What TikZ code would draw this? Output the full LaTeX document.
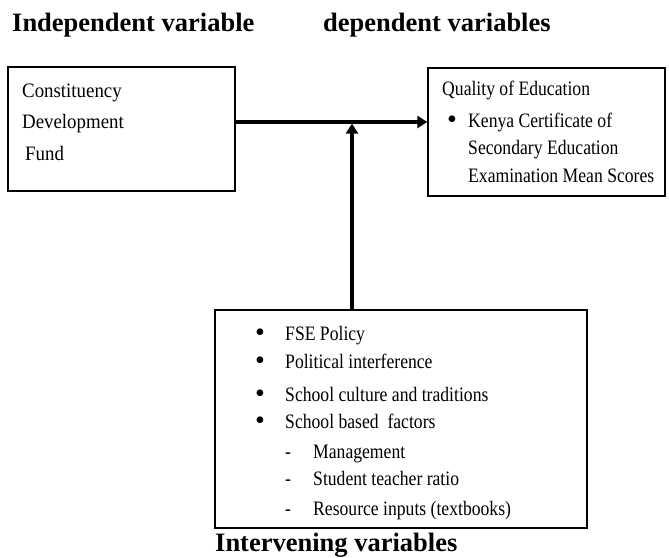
\documentclass[tikz,border=0pt]{standalone}
\usepackage{fontspec}
\setmainfont{Liberation Serif}
\newfontfamily\condA[FakeStretch=0.86]{Liberation Serif}
\newfontfamily\condB[FakeStretch=0.92]{Liberation Serif}
\usetikzlibrary{arrows.meta}
\begin{document}
\begin{tikzpicture}[x=1pt,y=-1pt,
  ttl/.style={anchor=base west,inner sep=0pt,font=\fontsize{26.5}{30}\selectfont\bfseries},
  box/.style={draw,line width=1.4pt,inner sep=0pt},
  txa/.style={anchor=base west,inner sep=0pt,font=\fontsize{20.5}{24}\condA},
  txb/.style={anchor=base west,inner sep=0pt,font=\fontsize{20.5}{24}\condB},
  bul/.style={anchor=base,inner sep=0pt,font=\fontsize{28}{30}\selectfont},
  dsh/.style={anchor=base,inner sep=0pt,font=\fontsize{20.5}{24}\condA},
  arr/.style={line width=3.2pt,-{Triangle[length=10pt,width=12pt]}}]
\useasboundingbox (0,0) rectangle (669,557);
% titles
\node[ttl] (t1) at (12,31) {Independent variable};
\node[ttl] (t2) at (323,31) {dependent variables};
\node[ttl] (t3) at (215,551) {Intervening variables};
% boxes
\node[box,minimum width=227pt,minimum height=124pt] (cdf) at (121.5,129) {};
\node[box,minimum width=237pt,minimum height=128pt] (qe) at (546.5,132) {};
\node[box,minimum width=372pt,minimum height=218pt] (iv) at (401,419) {};
% left box text
\node[txb] (c1) at (22,97) {Constituency};
\node[txb] (c2) at (22,128) {Development};
\node[txb] (c3) at (25,160) {Fund};
% right box text
\node[txa] (q1) at (442,95) {Quality of Education};
\node[bul] (qb) at (452,128) {•};
\node[txa] (q2) at (468,127) {Kenya Certificate of};
\node[txa] (q3) at (468,154) {Secondary Education};
\node[txa] (q4) at (468,182) {Examination Mean Scores};
% bottom box text
\node[bul] (b1) at (260,341) {•};
\node[txa] (i1) at (285,340) {FSE Policy};
\node[bul] (b2) at (260,369) {•};
\node[txa] (i2) at (285,368) {Political interference};
\node[bul] (b3) at (260,402) {•};
\node[txa] (i3) at (285,401) {School culture and traditions};
\node[bul] (b4) at (260,429) {•};
\node[txa] (i4) at (285,428) {School based\ \ factors};
\node[dsh] (d1) at (288,458) {-};
\node[txa] (s1) at (313,458) {Management};
\node[dsh] (d2) at (288,485) {-};
\node[txa] (s2) at (313,485) {Student teacher ratio};
\node[dsh] (d3) at (288,515) {-};
\node[txa] (s3) at (313,515) {Resource inputs (textbooks)};
% connectors
\coordinate (j) at (352,122);
\draw[arr] (cdf.east |- j) -- (qe.west |- j);
\draw[arr,shorten >=1.6pt] (iv.north -| j) -- (j);
\end{tikzpicture}
\end{document}
